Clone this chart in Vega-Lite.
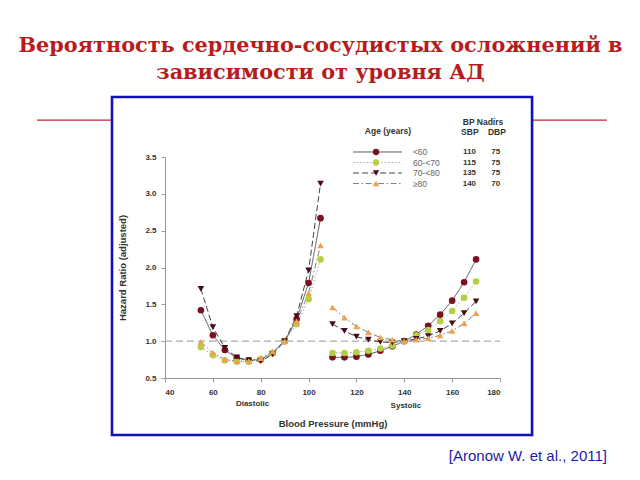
{
  "$schema": "https://vega.github.io/schema/vega-lite/v6.json",
  "width": 335,
  "height": 221,
  "autosize": "none",
  "padding": {"left": 165, "top": 157, "right": 140, "bottom": 102},
  "background": "white",
  "config": {"view": {"stroke": null}, "font": "Liberation Sans", "axisY": {"labelOverlap": false}, "axisX": {"labelOverlap": false}},
  "title": {
    "text": ["Вероятность сердечно-сосудистых осложнений в", "зависимости от уровня АД"],
    "font": "DejaVu Serif",
    "fontSize": 20.8,
    "fontWeight": "bold",
    "color": "#b71c1c",
    "anchor": "middle",
    "frame": "group",
    "dx": -12,
    "offset": 12,
    "lineHeight": 27
  },
  "datasets": {
    "hr": [
      {"bp":55,"hr":1.42,"age":"<60","part":"Diastolic"},{"bp":60,"hr":1.08,"age":"<60","part":"Diastolic"},{"bp":65,"hr":0.88,"age":"<60","part":"Diastolic"},{"bp":70,"hr":0.77,"age":"<60","part":"Diastolic"},{"bp":75,"hr":0.74,"age":"<60","part":"Diastolic"},{"bp":80,"hr":0.75,"age":"<60","part":"Diastolic"},{"bp":85,"hr":0.84,"age":"<60","part":"Diastolic"},{"bp":90,"hr":1.0,"age":"<60","part":"Diastolic"},{"bp":95,"hr":1.3,"age":"<60","part":"Diastolic"},{"bp":100,"hr":1.79,"age":"<60","part":"Diastolic"},{"bp":105,"hr":2.67,"age":"<60","part":"Diastolic"},
      {"bp":55,"hr":0.92,"age":"60-<70","part":"Diastolic"},{"bp":60,"hr":0.81,"age":"60-<70","part":"Diastolic"},{"bp":65,"hr":0.74,"age":"60-<70","part":"Diastolic"},{"bp":70,"hr":0.72,"age":"60-<70","part":"Diastolic"},{"bp":75,"hr":0.72,"age":"60-<70","part":"Diastolic"},{"bp":80,"hr":0.76,"age":"60-<70","part":"Diastolic"},{"bp":85,"hr":0.84,"age":"60-<70","part":"Diastolic"},{"bp":90,"hr":1.0,"age":"60-<70","part":"Diastolic"},{"bp":95,"hr":1.23,"age":"60-<70","part":"Diastolic"},{"bp":100,"hr":1.57,"age":"60-<70","part":"Diastolic"},{"bp":105,"hr":2.11,"age":"60-<70","part":"Diastolic"},
      {"bp":55,"hr":1.71,"age":"70-<80","part":"Diastolic"},{"bp":60,"hr":1.19,"age":"70-<80","part":"Diastolic"},{"bp":65,"hr":0.91,"age":"70-<80","part":"Diastolic"},{"bp":70,"hr":0.78,"age":"70-<80","part":"Diastolic"},{"bp":75,"hr":0.74,"age":"70-<80","part":"Diastolic"},{"bp":80,"hr":0.73,"age":"70-<80","part":"Diastolic"},{"bp":85,"hr":0.82,"age":"70-<80","part":"Diastolic"},{"bp":90,"hr":1.0,"age":"70-<80","part":"Diastolic"},{"bp":95,"hr":1.34,"age":"70-<80","part":"Diastolic"},{"bp":100,"hr":1.96,"age":"70-<80","part":"Diastolic"},{"bp":105,"hr":3.14,"age":"70-<80","part":"Diastolic"},
      {"bp":55,"hr":0.99,"age":"≥80","part":"Diastolic"},{"bp":60,"hr":0.84,"age":"≥80","part":"Diastolic"},{"bp":65,"hr":0.75,"age":"≥80","part":"Diastolic"},{"bp":70,"hr":0.73,"age":"≥80","part":"Diastolic"},{"bp":75,"hr":0.73,"age":"≥80","part":"Diastolic"},{"bp":80,"hr":0.77,"age":"≥80","part":"Diastolic"},{"bp":85,"hr":0.86,"age":"≥80","part":"Diastolic"},{"bp":90,"hr":1.0,"age":"≥80","part":"Diastolic"},{"bp":95,"hr":1.27,"age":"≥80","part":"Diastolic"},{"bp":100,"hr":1.65,"age":"≥80","part":"Diastolic"},{"bp":105,"hr":2.3,"age":"≥80","part":"Diastolic"},
      {"bp":110,"hr":0.78,"age":"<60","part":"Systolic"},{"bp":115,"hr":0.78,"age":"<60","part":"Systolic"},{"bp":120,"hr":0.79,"age":"<60","part":"Systolic"},{"bp":125,"hr":0.82,"age":"<60","part":"Systolic"},{"bp":130,"hr":0.87,"age":"<60","part":"Systolic"},{"bp":135,"hr":0.93,"age":"<60","part":"Systolic"},{"bp":140,"hr":1.0,"age":"<60","part":"Systolic"},{"bp":145,"hr":1.09,"age":"<60","part":"Systolic"},{"bp":150,"hr":1.21,"age":"<60","part":"Systolic"},{"bp":155,"hr":1.36,"age":"<60","part":"Systolic"},{"bp":160,"hr":1.55,"age":"<60","part":"Systolic"},{"bp":165,"hr":1.8,"age":"<60","part":"Systolic"},{"bp":170,"hr":2.11,"age":"<60","part":"Systolic"},
      {"bp":110,"hr":0.84,"age":"60-<70","part":"Systolic"},{"bp":115,"hr":0.84,"age":"60-<70","part":"Systolic"},{"bp":120,"hr":0.85,"age":"60-<70","part":"Systolic"},{"bp":125,"hr":0.87,"age":"60-<70","part":"Systolic"},{"bp":130,"hr":0.9,"age":"60-<70","part":"Systolic"},{"bp":135,"hr":0.94,"age":"60-<70","part":"Systolic"},{"bp":140,"hr":1.0,"age":"60-<70","part":"Systolic"},{"bp":145,"hr":1.08,"age":"60-<70","part":"Systolic"},{"bp":150,"hr":1.15,"age":"60-<70","part":"Systolic"},{"bp":155,"hr":1.27,"age":"60-<70","part":"Systolic"},{"bp":160,"hr":1.41,"age":"60-<70","part":"Systolic"},{"bp":165,"hr":1.59,"age":"60-<70","part":"Systolic"},{"bp":170,"hr":1.81,"age":"60-<70","part":"Systolic"},
      {"bp":110,"hr":1.23,"age":"70-<80","part":"Systolic"},{"bp":115,"hr":1.14,"age":"70-<80","part":"Systolic"},{"bp":120,"hr":1.06,"age":"70-<80","part":"Systolic"},{"bp":125,"hr":1.02,"age":"70-<80","part":"Systolic"},{"bp":130,"hr":0.99,"age":"70-<80","part":"Systolic"},{"bp":135,"hr":0.98,"age":"70-<80","part":"Systolic"},{"bp":140,"hr":1.0,"age":"70-<80","part":"Systolic"},{"bp":145,"hr":1.03,"age":"70-<80","part":"Systolic"},{"bp":150,"hr":1.07,"age":"70-<80","part":"Systolic"},{"bp":155,"hr":1.14,"age":"70-<80","part":"Systolic"},{"bp":160,"hr":1.24,"age":"70-<80","part":"Systolic"},{"bp":165,"hr":1.38,"age":"70-<80","part":"Systolic"},{"bp":170,"hr":1.54,"age":"70-<80","part":"Systolic"},
      {"bp":110,"hr":1.46,"age":"≥80","part":"Systolic"},{"bp":115,"hr":1.32,"age":"≥80","part":"Systolic"},{"bp":120,"hr":1.2,"age":"≥80","part":"Systolic"},{"bp":125,"hr":1.12,"age":"≥80","part":"Systolic"},{"bp":130,"hr":1.05,"age":"≥80","part":"Systolic"},{"bp":135,"hr":1.02,"age":"≥80","part":"Systolic"},{"bp":140,"hr":1.0,"age":"≥80","part":"Systolic"},{"bp":145,"hr":1.02,"age":"≥80","part":"Systolic"},{"bp":150,"hr":1.04,"age":"≥80","part":"Systolic"},{"bp":155,"hr":1.08,"age":"≥80","part":"Systolic"},{"bp":160,"hr":1.14,"age":"≥80","part":"Systolic"},{"bp":165,"hr":1.24,"age":"≥80","part":"Systolic"},{"bp":170,"hr":1.38,"age":"≥80","part":"Systolic"}
    ],
    "nadirs": [
      {"age":"<60","sbp":110,"dbp":75},
      {"age":"60-<70","sbp":115,"dbp":75},
      {"age":"70-<80","sbp":135,"dbp":75},
      {"age":"≥80","sbp":140,"dbp":70}
    ],
    "one": [{}]
  },
  "layer": [
    {
      "data": {"name": "one"},
      "mark": {"type": "rule", "color": "#c0262d", "strokeWidth": 1.2, "clip": false},
      "encoding": {"x": {"datum": -13.5}, "x2": {"datum": 17.85}, "y": {"datum": 4.0}}
    },
    {
      "data": {"name": "one"},
      "mark": {"type": "rule", "color": "#c0262d", "strokeWidth": 1.2, "clip": false},
      "encoding": {"x": {"datum": 193.4}, "x2": {"datum": 224.7}, "y": {"datum": 4.0}}
    },
    {
      "data": {"name": "one"},
      "mark": {"type": "rect", "fill": "white", "fillOpacity": 0, "stroke": "#1010b8", "strokeWidth": 2.6, "clip": false},
      "encoding": {"x": {"datum": 17.85}, "x2": {"datum": 193.4}, "y": {"datum": 4.314}, "y2": {"datum": -0.274}}
    },
    {
      "data": {"name": "one"},
      "mark": {"type": "rule", "color": "#aaaaaa", "strokeWidth": 1.4, "strokeDash": [7, 4], "clip": false},
      "encoding": {"x": {"datum": 40}, "x2": {"datum": 180}, "y": {"datum": 1.0}}
    },
    {
      "data": {"name": "hr"},
      "mark": {"type": "line", "strokeWidth": 1, "clip": false},
      "encoding": {
        "x": {"field": "bp", "type": "quantitative",
          "scale": {"domain": [40, 180], "nice": false, "zero": false},
          "axis": {"title": "Blood Pressure (mmHg)", "tickCount": 7, "grid": false, "labelOverlap": false,
            "labelFont": "Liberation Sans", "labelFontSize": 8, "labelFontWeight": "bold", "labelColor": "#333333",
            "titleFont": "Liberation Sans", "titleFontSize": 9.5, "titleFontWeight": "bold", "titleColor": "#333333",
            "titlePadding": 22, "labelPadding": 6, "domainColor": "#999999", "tickColor": "#999999", "tickSize": 4}},
        "y": {"field": "hr", "type": "quantitative",
          "scale": {"domain": [0.5, 3.5], "nice": false, "zero": false},
          "axis": {"title": "Hazard Ratio (adjusted)", "tickCount": 6, "labelExpr": "format(datum.value, '.1f')", "grid": false, "labelOverlap": false, "labelSeparation": 0,
            "labelFont": "Liberation Sans", "labelFontSize": 8, "labelFontWeight": "bold", "labelColor": "#333333",
            "titleFont": "Liberation Sans", "titleFontSize": 9.5, "titleFontWeight": "bold", "titleColor": "#333333",
            "titlePadding": 17, "labelPadding": 5, "domainColor": "#999999", "tickColor": "#999999", "tickSize": 4}},
        "detail": {"field": "part"},
        "stroke": {"field": "age", "type": "nominal", "legend": null,
          "scale": {"domain": ["<60", "60-<70", "70-<80", "≥80"], "range": ["#555555", "#a8a8a8", "#404040", "#808080"]}},
        "strokeDash": {"field": "age", "type": "nominal", "legend": null,
          "scale": {"domain": ["<60", "60-<70", "70-<80", "≥80"], "range": [[1, 0], [1.5, 2], [6, 3], [6, 2.5, 1.5, 2.5]]}}
      }
    },
    {
      "data": {"name": "hr"},
      "mark": {"type": "point", "filled": true, "size": 44, "opacity": 1, "clip": false},
      "encoding": {
        "x": {"field": "bp", "type": "quantitative"},
        "y": {"field": "hr", "type": "quantitative"},
        "fill": {"field": "age", "type": "nominal", "legend": null,
          "scale": {"domain": ["<60", "60-<70", "70-<80", "≥80"], "range": ["#7a1020", "#b5cf45", "#4a0c14", "#eda24f"]}},
        "shape": {"field": "age", "type": "nominal", "legend": null,
          "scale": {"domain": ["<60", "60-<70", "70-<80", "≥80"], "range": ["circle", "circle", "triangle-down", "triangle-up"]}}
      }
    },
    {
      "data": {"name": "one"},
      "mark": {"type": "text", "text": "Diastolic", "font": "Liberation Sans", "fontSize": 8, "fontWeight": "bold", "color": "#333333", "clip": false},
      "encoding": {"x": {"datum": 76.6}, "y": {"datum": 0.147}}
    },
    {
      "data": {"name": "one"},
      "mark": {"type": "text", "text": "Systolic", "font": "Liberation Sans", "fontSize": 8, "fontWeight": "bold", "color": "#333333", "clip": false},
      "encoding": {"x": {"datum": 140.7}, "y": {"datum": 0.12}}
    },
    {
      "data": {"name": "one"},
      "mark": {"type": "text", "text": "[Aronow W. et al., 2011]", "font": "Liberation Sans", "fontSize": 15, "color": "#1c1ca8", "align": "right", "baseline": "alphabetic", "clip": false},
      "encoding": {"x": {"datum": 224.7}, "y": {"datum": -0.627}}
    },
    {
      "data": {"name": "one"},
      "mark": {"type": "text", "text": "Age (years)", "font": "Liberation Sans", "fontSize": 8.5, "fontWeight": "bold", "color": "#333333", "clip": false},
      "encoding": {"x": {"datum": 133.2}, "y": {"datum": 3.853}}
    },
    {
      "data": {"name": "one"},
      "mark": {"type": "text", "text": "BP Nadirs", "font": "Liberation Sans", "fontSize": 8.5, "fontWeight": "bold", "color": "#333333", "clip": false},
      "encoding": {"x": {"datum": 172.9}, "y": {"datum": 3.975}}
    },
    {
      "data": {"name": "one"},
      "mark": {"type": "text", "text": "SBP", "font": "Liberation Sans", "fontSize": 8.5, "fontWeight": "bold", "color": "#333333", "clip": false},
      "encoding": {"x": {"datum": 167.4}, "y": {"datum": 3.839}}
    },
    {
      "data": {"name": "one"},
      "mark": {"type": "text", "text": "DBP", "font": "Liberation Sans", "fontSize": 8.5, "fontWeight": "bold", "color": "#333333", "clip": false},
      "encoding": {"x": {"datum": 178.7}, "y": {"datum": 3.839}}
    },
    {
      "data": {"name": "nadirs"},
      "transform": [{"filter": {"field": "age", "equal": "<60"}}],
      "encoding": {"y": {"datum": 3.568}},
      "layer": [
        {"mark": {"type": "rule", "strokeWidth": 1, "clip": false}, "encoding": {"x": {"datum": 118.6}, "x2": {"datum": 139.0}, "stroke": {"field": "age", "type": "nominal", "legend": null}, "strokeDash": {"field": "age", "type": "nominal", "legend": null}}},
        {"mark": {"type": "point", "filled": true, "size": 40, "opacity": 1, "clip": false}, "encoding": {"x": {"datum": 128.2}, "fill": {"field": "age", "type": "nominal", "legend": null}, "shape": {"field": "age", "type": "nominal", "legend": null}}},
        {"mark": {"type": "text", "align": "left", "font": "Liberation Sans", "fontSize": 8.5, "color": "#666666", "clip": false}, "encoding": {"x": {"datum": 143.6}, "text": {"field": "age"}}},
        {"mark": {"type": "text", "align": "center", "font": "Liberation Sans", "fontSize": 8, "fontWeight": "bold", "color": "#333333", "clip": false}, "encoding": {"x": {"datum": 167.2}, "text": {"field": "sbp"}}},
        {"mark": {"type": "text", "align": "center", "font": "Liberation Sans", "fontSize": 8, "fontWeight": "bold", "color": "#333333", "clip": false}, "encoding": {"x": {"datum": 178.2}, "text": {"field": "dbp"}}}
      ]
    },
    {
      "data": {"name": "nadirs"},
      "transform": [{"filter": {"field": "age", "equal": "60-<70"}}],
      "encoding": {"y": {"datum": 3.425}},
      "layer": [
        {"mark": {"type": "rule", "strokeWidth": 1, "clip": false}, "encoding": {"x": {"datum": 118.6}, "x2": {"datum": 139.0}, "stroke": {"field": "age", "type": "nominal", "legend": null}, "strokeDash": {"field": "age", "type": "nominal", "legend": null}}},
        {"mark": {"type": "point", "filled": true, "size": 40, "opacity": 1, "clip": false}, "encoding": {"x": {"datum": 128.2}, "fill": {"field": "age", "type": "nominal", "legend": null}, "shape": {"field": "age", "type": "nominal", "legend": null}}},
        {"mark": {"type": "text", "align": "left", "font": "Liberation Sans", "fontSize": 8.5, "color": "#666666", "clip": false}, "encoding": {"x": {"datum": 143.6}, "text": {"field": "age"}}},
        {"mark": {"type": "text", "align": "center", "font": "Liberation Sans", "fontSize": 8, "fontWeight": "bold", "color": "#333333", "clip": false}, "encoding": {"x": {"datum": 167.2}, "text": {"field": "sbp"}}},
        {"mark": {"type": "text", "align": "center", "font": "Liberation Sans", "fontSize": 8, "fontWeight": "bold", "color": "#333333", "clip": false}, "encoding": {"x": {"datum": 178.2}, "text": {"field": "dbp"}}}
      ]
    },
    {
      "data": {"name": "nadirs"},
      "transform": [{"filter": {"field": "age", "equal": "70-<80"}}],
      "encoding": {"y": {"datum": 3.283}},
      "layer": [
        {"mark": {"type": "rule", "strokeWidth": 1, "clip": false}, "encoding": {"x": {"datum": 118.6}, "x2": {"datum": 139.0}, "stroke": {"field": "age", "type": "nominal", "legend": null}, "strokeDash": {"field": "age", "type": "nominal", "legend": null}}},
        {"mark": {"type": "point", "filled": true, "size": 40, "opacity": 1, "clip": false}, "encoding": {"x": {"datum": 128.2}, "fill": {"field": "age", "type": "nominal", "legend": null}, "shape": {"field": "age", "type": "nominal", "legend": null}}},
        {"mark": {"type": "text", "align": "left", "font": "Liberation Sans", "fontSize": 8.5, "color": "#666666", "clip": false}, "encoding": {"x": {"datum": 143.6}, "text": {"field": "age"}}},
        {"mark": {"type": "text", "align": "center", "font": "Liberation Sans", "fontSize": 8, "fontWeight": "bold", "color": "#333333", "clip": false}, "encoding": {"x": {"datum": 167.2}, "text": {"field": "sbp"}}},
        {"mark": {"type": "text", "align": "center", "font": "Liberation Sans", "fontSize": 8, "fontWeight": "bold", "color": "#333333", "clip": false}, "encoding": {"x": {"datum": 178.2}, "text": {"field": "dbp"}}}
      ]
    },
    {
      "data": {"name": "nadirs"},
      "transform": [{"filter": {"field": "age", "equal": "≥80"}}],
      "encoding": {"y": {"datum": 3.140}},
      "layer": [
        {"mark": {"type": "rule", "strokeWidth": 1, "clip": false}, "encoding": {"x": {"datum": 118.6}, "x2": {"datum": 139.0}, "stroke": {"field": "age", "type": "nominal", "legend": null}, "strokeDash": {"field": "age", "type": "nominal", "legend": null}}},
        {"mark": {"type": "point", "filled": true, "size": 40, "opacity": 1, "clip": false}, "encoding": {"x": {"datum": 128.2}, "fill": {"field": "age", "type": "nominal", "legend": null}, "shape": {"field": "age", "type": "nominal", "legend": null}}},
        {"mark": {"type": "text", "align": "left", "font": "Liberation Sans", "fontSize": 8.5, "color": "#666666", "clip": false}, "encoding": {"x": {"datum": 143.6}, "text": {"field": "age"}}},
        {"mark": {"type": "text", "align": "center", "font": "Liberation Sans", "fontSize": 8, "fontWeight": "bold", "color": "#333333", "clip": false}, "encoding": {"x": {"datum": 167.2}, "text": {"field": "sbp"}}},
        {"mark": {"type": "text", "align": "center", "font": "Liberation Sans", "fontSize": 8, "fontWeight": "bold", "color": "#333333", "clip": false}, "encoding": {"x": {"datum": 178.2}, "text": {"field": "dbp"}}}
      ]
    }
  ]
}
